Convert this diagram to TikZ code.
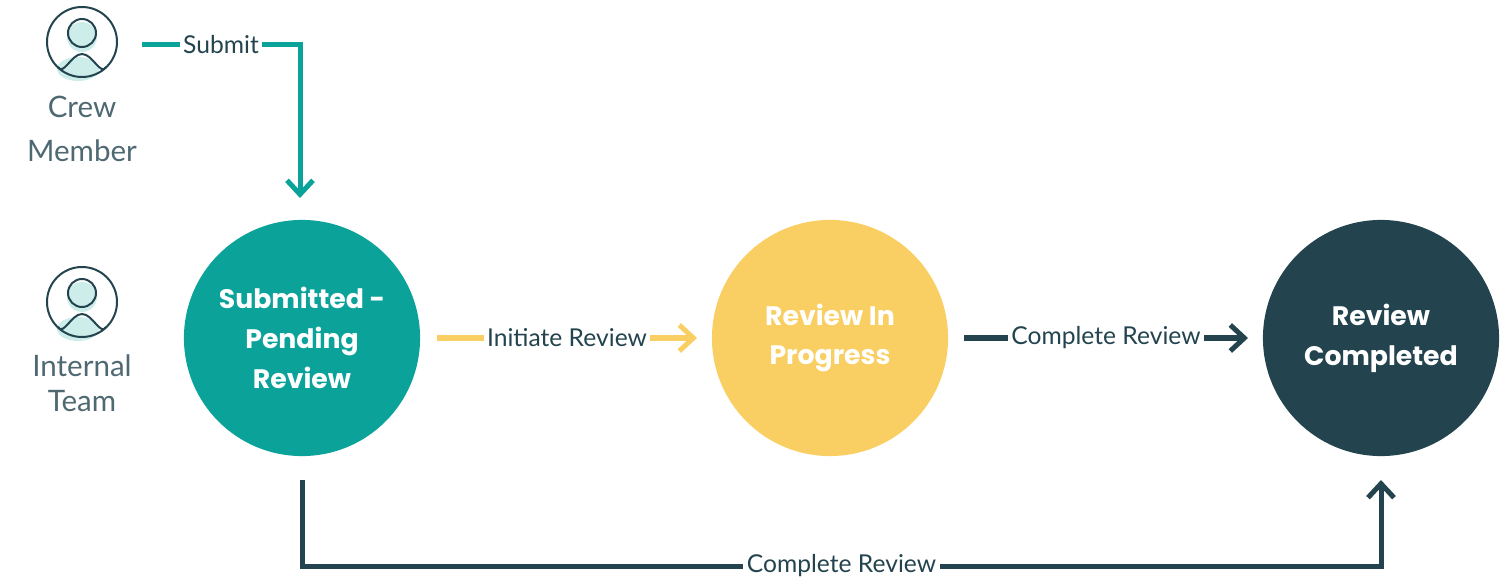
\documentclass[tikz,border=0pt]{standalone}
\usepackage{fontspec}
\setmainfont{Lato}
\newfontfamily\boldface{Poppins}
\usetikzlibrary{arrows.meta}
\definecolor{teal}{HTML}{0BA29A}
\definecolor{sun}{HTML}{F9CF63}
\definecolor{ink}{HTML}{23444F}
\definecolor{mint}{HTML}{CDEDEA}
\begin{document}
\begin{tikzpicture}[x=0.01cm, y=-0.01cm,
    state/.style={circle, minimum size=2.36cm, inner sep=0pt, align=center, font=\boldface\bfseries\fontsize{7.6}{11.3}\selectfont, text=white},
    flow/.style={line width=0.5mm, -{Straight Barb[length=1.4mm, width=2.6mm, line width=0.5mm]}},
    lbl/.style={fill=white, text=ink, inner sep=1pt, font=\fontsize{7}{8}\selectfont},
    role/.style={text=ink!80, align=center, font=\fontsize{8.4}{12.5}\selectfont}]
    \useasboundingbox (0,0) rectangle (1500,585);

    % people
    \foreach \name/\y in {crew/42, team/302} {
        \fill[mint] (82,\y-5) circle (15);
        \fill[mint] (78,\y+27) ellipse (21 and 12);
        \draw[ink, line width=0.2mm] (82,\y) circle (35);
        \draw[ink, line width=0.2mm] (82,\y-9) circle (14);
        \draw[ink, line width=0.2mm] (58,\y+25) to[out=-60, in=180] (82,\y+12) to[out=0, in=240] (106,\y+25);
        \coordinate (\name) at (82,\y);
    }
    \node[role] (crewtxt) at (82,129) {Crew\\Member};
    \node[role, font=\fontsize{8.4}{10}\selectfont] (teamtxt) at (82,383) {Internal\\Team};

    % states
    \node[state, fill=teal] (pending) at (302,338) {Submitted -\\Pending\\Review};
    \node[state, fill=sun] (progress) at (830,338) {Review In\\Progress};
    \node[state, fill=ink] (done) at (1381,338) {Review\\Completed};

    \coordinate (s0) at (142,45);
    \coordinate (s1) at (300,45);
    \coordinate (s2) at (300,198);
    \draw[flow, teal] (s0) -- node[lbl] {Submit} (s1) -- (s2);

    \coordinate (i0) at (437,338);
    \coordinate (i1) at (697,338);
    \draw[flow, sun] (i0) -- node[lbl] {Initiate Review} (i1);

    \coordinate (c0) at (964,338);
    \coordinate (c1) at (1248,338);
    \draw[flow, ink] (c0) -- node[lbl] {Complete Review} (c1);

    \coordinate (b0) at (302,480);
    \coordinate (b1) at (302,566);
    \coordinate (b2) at (1381,566);
    \coordinate (b3) at (1381,480);
    \draw[flow, ink] (b0) -- (b1) -- node[lbl, pos=0.5] {Complete Review} (b2) -- (b3);
\end{tikzpicture}
\end{document}
